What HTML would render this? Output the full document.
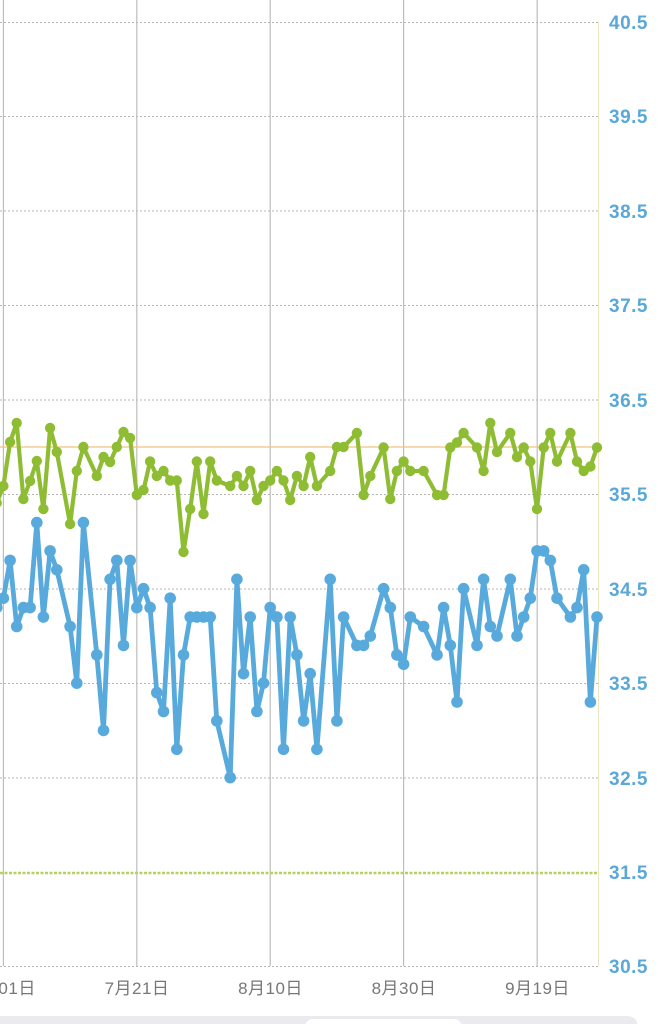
<!DOCTYPE html>
<html><head><meta charset="utf-8">
<style>
html,body{margin:0;padding:0;background:#fff;}
svg{display:block;}
.yl{font-family:"Liberation Sans",sans-serif;font-size:19px;font-weight:bold;fill:#5aa8d8;letter-spacing:0.5px;}
.xl{font-family:"Liberation Sans","Noto Sans CJK JP",sans-serif;font-size:17px;fill:#777;letter-spacing:0.5px;}
</style></head>
<body>
<svg width="658" height="1024" viewBox="0 0 658 1024" xmlns="http://www.w3.org/2000/svg">
<defs>
<marker id="mb" markerUnits="userSpaceOnUse" markerWidth="16" markerHeight="16" refX="8" refY="8"><circle cx="8" cy="8" r="5.8" fill="#58aadc"/></marker>
<marker id="mg" markerUnits="userSpaceOnUse" markerWidth="16" markerHeight="16" refX="8" refY="8"><circle cx="8" cy="8" r="5.2" fill="#8ebd33"/></marker>
</defs>
<rect width="658" height="1024" fill="#fff"/>
<g stroke="#b5b5b5" stroke-width="1" stroke-dasharray="2 2">
<line x1="0" y1="22.5" x2="598" y2="22.5"/>
<line x1="0" y1="116.5" x2="598" y2="116.5"/>
<line x1="0" y1="211" x2="598" y2="211"/>
<line x1="0" y1="305.5" x2="598" y2="305.5"/>
<line x1="0" y1="400" x2="598" y2="400"/>
<line x1="0" y1="494.5" x2="598" y2="494.5"/>
<line x1="0" y1="589" x2="598" y2="589"/>
<line x1="0" y1="683.5" x2="598" y2="683.5"/>
<line x1="0" y1="778" x2="598" y2="778"/>
<line x1="0" y1="966.5" x2="598" y2="966.5"/>
</g>
<g stroke="#bdbdbd" stroke-width="1.2">
<line x1="3.4" y1="0" x2="3.4" y2="966"/>
<line x1="136.8" y1="0" x2="136.8" y2="966"/>
<line x1="270.2" y1="0" x2="270.2" y2="966"/>
<line x1="403.6" y1="0" x2="403.6" y2="966"/>
<line x1="537.2" y1="0" x2="537.2" y2="966"/>
</g>
<line x1="598.5" y1="22" x2="598.5" y2="966" stroke="#efe4c4" stroke-width="1"/>
<line x1="0" y1="447" x2="598" y2="447" stroke="#f3c07a" stroke-width="1.2"/>
<line x1="0" y1="873" x2="598" y2="873" stroke="#b4d35e" stroke-width="2.6" stroke-dasharray="3 1.5"/>
<g class="yl">
<text x="609" y="29">40.5</text>
<text x="609" y="123">39.5</text>
<text x="609" y="218">38.5</text>
<text x="609" y="312">37.5</text>
<text x="609" y="407">36.5</text>
<text x="609" y="501">35.5</text>
<text x="609" y="596">34.5</text>
<text x="609" y="690">33.5</text>
<text x="609" y="785">32.5</text>
<text x="609" y="879">31.5</text>
<text x="609" y="973">30.5</text>
</g>
<g class="xl" text-anchor="middle">
<text x="3.4" y="994">7月01日</text>
<text x="137" y="994">7月21日</text>
<text x="270.5" y="994">8月10日</text>
<text x="404" y="994">8月30日</text>
<text x="537.5" y="994">9月19日</text>
</g>
<polyline fill="none" stroke="#8ebd33" stroke-width="4.2" stroke-linejoin="round" marker-start="url(#mg)" marker-mid="url(#mg)" marker-end="url(#mg)" points="-3.3,503 3.4,486 10.1,442 16.7,423 23.4,499 30.1,481 36.8,461 43.4,509 50.1,428 56.8,452 70.1,524 76.8,471 83.4,447 96.8,476 103.5,457 110.1,462 116.8,447 123.5,432 130.1,438 136.8,495 143.5,490 150.1,461.5 156.8,476 163.5,471 170.2,480.5 176.8,480.5 183.5,552 190.2,509 196.8,461.5 203.5,514 210.2,461.5 216.8,480.5 230.2,486 236.9,476 243.5,486 250.2,471 256.9,500 263.5,486 270.2,480.5 276.9,471 283.5,480.5 290.2,500 296.9,476 303.6,486 310.2,457 316.9,486 330.2,471 336.9,447 343.6,447 356.9,433 363.6,495 370.3,476 383.6,447.5 390.3,499 396.9,471 403.6,461.5 410.3,471 423.6,471 437.0,495 443.6,495 450.3,447.5 457.0,442.5 463.6,433 477.0,447.5 483.6,471 490.3,423 497.0,452 510.3,433 517.0,457 523.7,447.5 530.3,461.5 537.0,509 543.7,447.5 550.3,433 557.0,461.5 570.4,433 577.0,461.5 583.7,471 590.4,466.5 597.0,447.5"/>
<polyline fill="none" stroke="#58aadc" stroke-width="4.8" stroke-linejoin="round" marker-start="url(#mb)" marker-mid="url(#mb)" marker-end="url(#mb)" points="-3.3,607.6 3.4,598.2 10.1,560.4 16.7,626.5 23.4,607.6 30.1,607.6 36.8,522.6 43.4,617 50.1,550.9 56.8,569.8 70.1,626.5 76.8,683.2 83.4,522.6 96.8,654.9 103.5,730.4 110.1,579.3 116.8,560.4 123.5,645.4 130.1,560.4 136.8,607.6 143.5,588.7 150.1,607.6 156.8,692.6 163.5,711.5 170.2,598.2 176.8,749.3 183.5,654.9 190.2,617 196.8,617 203.5,617 210.2,617 216.8,720.9 230.2,777.6 236.9,579.3 243.5,673.7 250.2,617 256.9,711.5 263.5,683.2 270.2,607.6 276.9,617 283.5,749.3 290.2,617 296.9,654.9 303.6,720.9 310.2,673.7 316.9,749.3 330.2,579.3 336.9,720.9 343.6,617 356.9,645.4 363.6,645.4 370.3,636 383.6,588.7 390.3,607.6 396.9,654.9 403.6,664.3 410.3,617 423.6,626.5 437.0,654.9 443.6,607.6 450.3,645.4 457.0,702 463.6,588.7 477.0,645.4 483.6,579.3 490.3,626.5 497.0,636 510.3,579.3 517.0,636 523.7,617 530.3,598.2 537.0,550.9 543.7,550.9 550.3,560.4 557.0,598.2 570.4,617 577.0,607.6 583.7,569.8 590.4,702 597.0,617"/>
<path d="M0,1016 H626 Q638,1016 638,1028 V1030 H0 Z" fill="#ebebef"/>
<rect x="305" y="1019" width="157" height="20" rx="8" fill="#fff"/>
</svg>
</body></html>
